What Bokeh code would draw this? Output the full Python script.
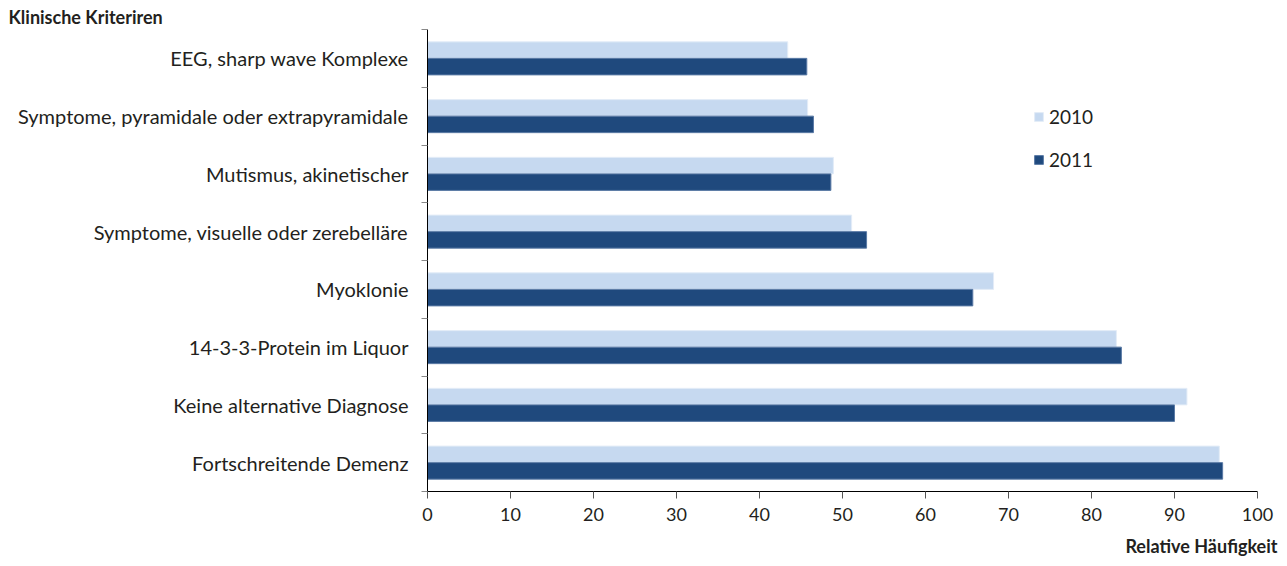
from bokeh.plotting import figure
from bokeh.models import Range1d, FixedTicker, Title, Legend, LegendItem, ColumnDataSource
from bokeh.transform import dodge
from bokeh.embed import file_html
from bokeh.resources import INLINE

# Criteria, listed from the bottom row to the top row
categories = [
    "Fortschreitende Demenz",
    "Keine alternative Diagnose",
    "14-3-3-Protein im Liquor",
    "Myoklonie",
    "Symptome, visuelle oder zerebelläre",
    "Mutismus, akinetischer",
    "Symptome, pyramidale oder extrapyramidale",
    "EEG, sharp wave Komplexe",
]
values_2010 = [95.4, 91.5, 83.0, 68.2, 51.1, 48.9, 45.8, 43.4]
values_2011 = [95.8, 90.0, 83.6, 65.7, 52.9, 48.6, 46.5, 45.7]
x_ticks = [0, 10, 20, 30, 40, 50, 60, 70, 80, 90, 100]

FONT = "Lato"
TEXT = "#231f20"
LIGHT = "#c6d9f0"
DARK = "#1f497d"

centers = [i + 0.5 for i in range(len(categories))]
source = ColumnDataSource(dict(y=centers, v2010=values_2010, v2011=values_2011))

p = figure(
    width=1287, height=566,
    x_range=Range1d(0, 100), y_range=Range1d(0, len(categories)),
    output_backend="svg", toolbar_location=None,
    min_border_left=427, min_border_right=30,
    min_border_top=29, min_border_bottom=75,
)
p.outline_line_color = None
p.xgrid.visible = False
p.ygrid.visible = False

bar_h = 0.286
r10 = p.hbar(y=dodge("y", 0.143), left=0, right="v2010", height=bar_h,
             source=source, fill_color=LIGHT, line_color="#e3ecf7", line_width=1)
r11 = p.hbar(y=dodge("y", -0.143), left=0, right="v2011", height=bar_h,
             source=source, fill_color=DARK, line_color="#5a7aa5", line_width=1)

# x axis
xa = p.xaxis[0]
xa.ticker = FixedTicker(ticks=x_ticks)
xa.axis_line_color = "black"
xa.axis_line_width = 1
xa.major_tick_line_color = "#555555"
xa.major_tick_out = 7
xa.major_tick_in = 0
xa.minor_tick_line_color = None
xa.major_label_standoff = 9
xa.major_label_text_font = FONT
xa.major_label_text_font_size = "18px"
xa.major_label_text_color = TEXT

# y axis: labels at row centres, small ticks at row boundaries
ya = p.yaxis[0]
ya.ticker = FixedTicker(ticks=centers, minor_ticks=list(range(len(categories) + 1)))
ya.major_label_overrides = {c: name for c, name in zip(centers, categories)}
ya.axis_line_color = "black"
ya.axis_line_width = 1
ya.major_tick_line_color = None
ya.major_tick_out = 0
ya.major_tick_in = 0
ya.minor_tick_line_color = "#888888"
ya.minor_tick_out = 6
ya.minor_tick_in = 0
ya.major_label_standoff = 13
ya.major_label_text_font = FONT
ya.major_label_text_font_size = "20px"
ya.major_label_text_color = TEXT

legend = Legend(
    items=[LegendItem(label="2010", renderers=[r10]),
           LegendItem(label="2011", renderers=[r11])],
    location=(606, 320),
    glyph_width=11, glyph_height=11,
    label_text_font=FONT, label_text_font_size="19px", label_text_color=TEXT,
    label_standoff=5, spacing=20, padding=0, margin=0,
    border_line_color=None, background_fill_alpha=0,
)
p.add_layout(legend, "center")

# heading of the category axis (top left) and of the value axis (bottom right)
p.add_layout(Title(text="Klinische Kriteriren", align="left", offset=-419,
                   text_font=FONT, text_font_style="bold", text_font_size="18px",
                   text_color=TEXT, standoff=4), "above")
p.add_layout(Title(text="Relative Häufigkeit", align="right", offset=-20,
                   text_font=FONT, text_font_style="bold", text_font_size="18px",
                   text_color=TEXT, standoff=19), "below")

open("out.html", "w").write(file_html(p, INLINE))
